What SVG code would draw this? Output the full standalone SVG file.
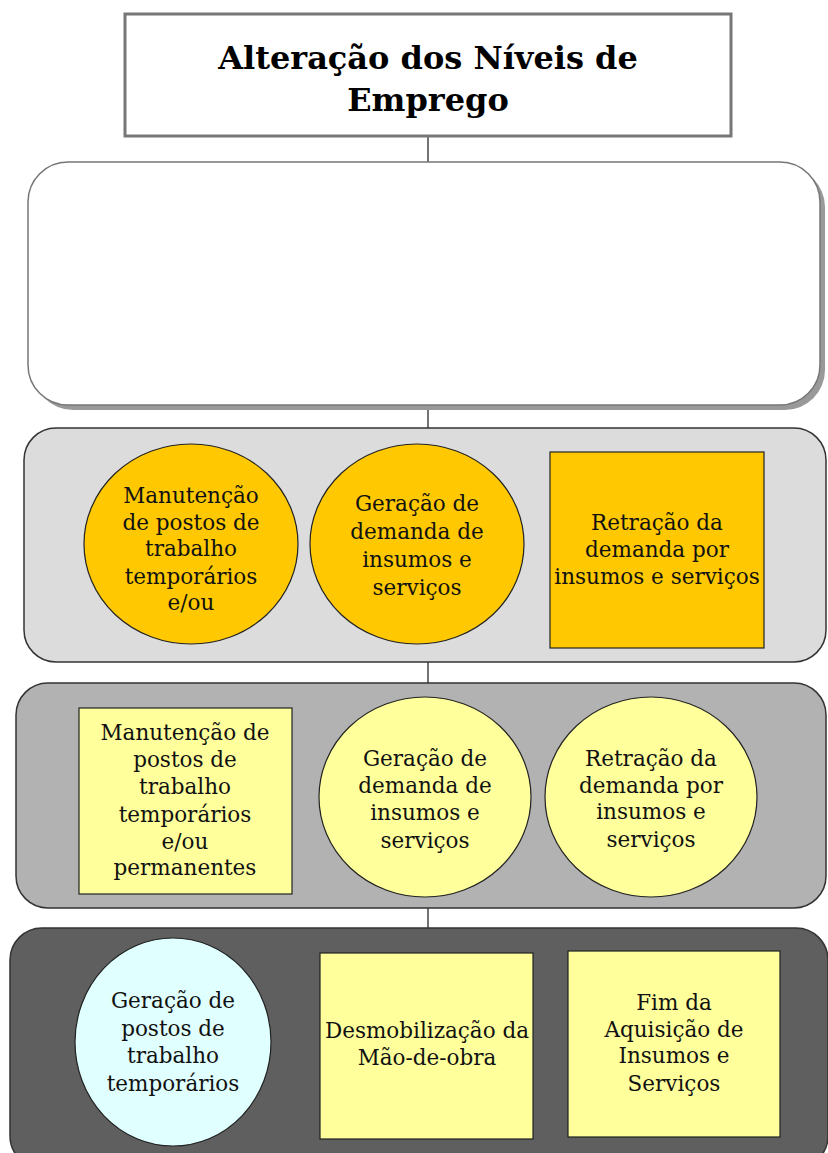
<svg xmlns="http://www.w3.org/2000/svg" width="828" height="1153" viewBox="0 0 828 1153">
  <style>
    .t { font-family: "DejaVu Serif", "Liberation Serif", serif; font-size: 21.5px; fill: #111; text-anchor: middle; }
    .title { font-family: "DejaVu Serif", "Liberation Serif", serif; font-size: 32px; font-weight: bold; fill: #000; text-anchor: middle; }
    .conn { stroke: #444; stroke-width: 1.5; fill: none; }
    .band { stroke: #333; stroke-width: 1.5; }
    .node { stroke: #222; stroke-width: 1.2; }
    .gold { fill: #ffc800; }
    .pale { fill: #ffff9c; }
    .cyan { fill: #e0ffff; }
  </style>

  <!-- connectors between the stacked levels -->
  <g id="connectors">
    <line class="conn" x1="428" y1="136" x2="428" y2="162"/>
    <line class="conn" x1="428" y1="405" x2="428" y2="428"/>
    <line class="conn" x1="428" y1="662" x2="428" y2="683"/>
    <line class="conn" x1="428" y1="908" x2="428" y2="928"/>
  </g>

  <!-- title -->
  <g id="title">
    <rect x="125" y="14" width="606" height="122" fill="#fff" stroke="#777" stroke-width="3"/>
    <text class="title" x="428" y="69">Alteração dos Níveis de</text>
    <text class="title" x="428" y="111">Emprego</text>
  </g>

  <!-- empty white panel -->
  <g id="panel-empty">
    <rect x="33" y="167" width="792" height="243" rx="40" fill="#999"/>
    <rect x="28" y="162" width="792" height="243" rx="40" fill="#fff" stroke="#777" stroke-width="1.5"/>
  </g>

  <!-- level 1: light grey band -->
  <g id="level-1">
    <rect class="band" x="24" y="428" width="802" height="234" rx="32" fill="#dcdcdc"/>
    <g id="l1-manutencao">
      <ellipse class="node gold" cx="191" cy="544" rx="107" ry="100"/>
      <text class="t" x="191" y="503">Manutenção</text>
      <text class="t" x="191" y="530">de postos de</text>
      <text class="t" x="191" y="556">trabalho</text>
      <text class="t" x="191" y="584">temporários</text>
      <text class="t" x="191" y="610">e/ou</text>
    </g>
    <g id="l1-geracao">
      <ellipse class="node gold" cx="417" cy="544" rx="107" ry="100"/>
      <text class="t" x="417" y="511">Geração de</text>
      <text class="t" x="417" y="539">demanda de</text>
      <text class="t" x="417" y="567">insumos e</text>
      <text class="t" x="417" y="595">serviços</text>
    </g>
    <g id="l1-retracao">
      <rect class="node gold" x="550" y="452" width="214" height="196"/>
      <text class="t" x="657" y="530">Retração da</text>
      <text class="t" x="657" y="557">demanda por</text>
      <text class="t" x="657" y="584">insumos e serviços</text>
    </g>
  </g>

  <!-- level 2: mid grey band -->
  <g id="level-2">
    <rect class="band" x="16" y="683" width="810" height="225" rx="32" fill="#b2b2b2"/>
    <g id="l2-manutencao">
      <rect class="node pale" x="79" y="708" width="213" height="186"/>
      <text class="t" x="185" y="740">Manutenção de</text>
      <text class="t" x="185" y="767">postos de</text>
      <text class="t" x="185" y="794">trabalho</text>
      <text class="t" x="185" y="822">temporários</text>
      <text class="t" x="185" y="849">e/ou</text>
      <text class="t" x="185" y="875">permanentes</text>
    </g>
    <g id="l2-geracao">
      <ellipse class="node pale" cx="425" cy="797" rx="106" ry="100"/>
      <text class="t" x="425" y="766">Geração de</text>
      <text class="t" x="425" y="793">demanda de</text>
      <text class="t" x="425" y="820">insumos e</text>
      <text class="t" x="425" y="848">serviços</text>
    </g>
    <g id="l2-retracao">
      <ellipse class="node pale" cx="651" cy="797" rx="106" ry="100"/>
      <text class="t" x="651" y="766">Retração da</text>
      <text class="t" x="651" y="793">demanda por</text>
      <text class="t" x="651" y="819">insumos e</text>
      <text class="t" x="651" y="847">serviços</text>
    </g>
  </g>

  <!-- level 3: dark grey band -->
  <g id="level-3">
    <rect class="band" x="10" y="928" width="818" height="240" rx="32" fill="#5f5f5f"/>
    <g id="l3-geracao">
      <ellipse class="node cyan" cx="173" cy="1042" rx="98" ry="104"/>
      <text class="t" x="173" y="1008">Geração de</text>
      <text class="t" x="173" y="1036">postos de</text>
      <text class="t" x="173" y="1063">trabalho</text>
      <text class="t" x="173" y="1091">temporários</text>
    </g>
    <g id="l3-desmobilizacao">
      <rect class="node pale" x="320" y="953" width="213" height="186"/>
      <text class="t" x="427" y="1038">Desmobilização da</text>
      <text class="t" x="427" y="1065">Mão-de-obra</text>
    </g>
    <g id="l3-fim">
      <rect class="node pale" x="568" y="951" width="212" height="186"/>
      <text class="t" x="674" y="1010">Fim da</text>
      <text class="t" x="674" y="1037">Aquisição de</text>
      <text class="t" x="674" y="1063">Insumos e</text>
      <text class="t" x="674" y="1091">Serviços</text>
    </g>
  </g>
</svg>
